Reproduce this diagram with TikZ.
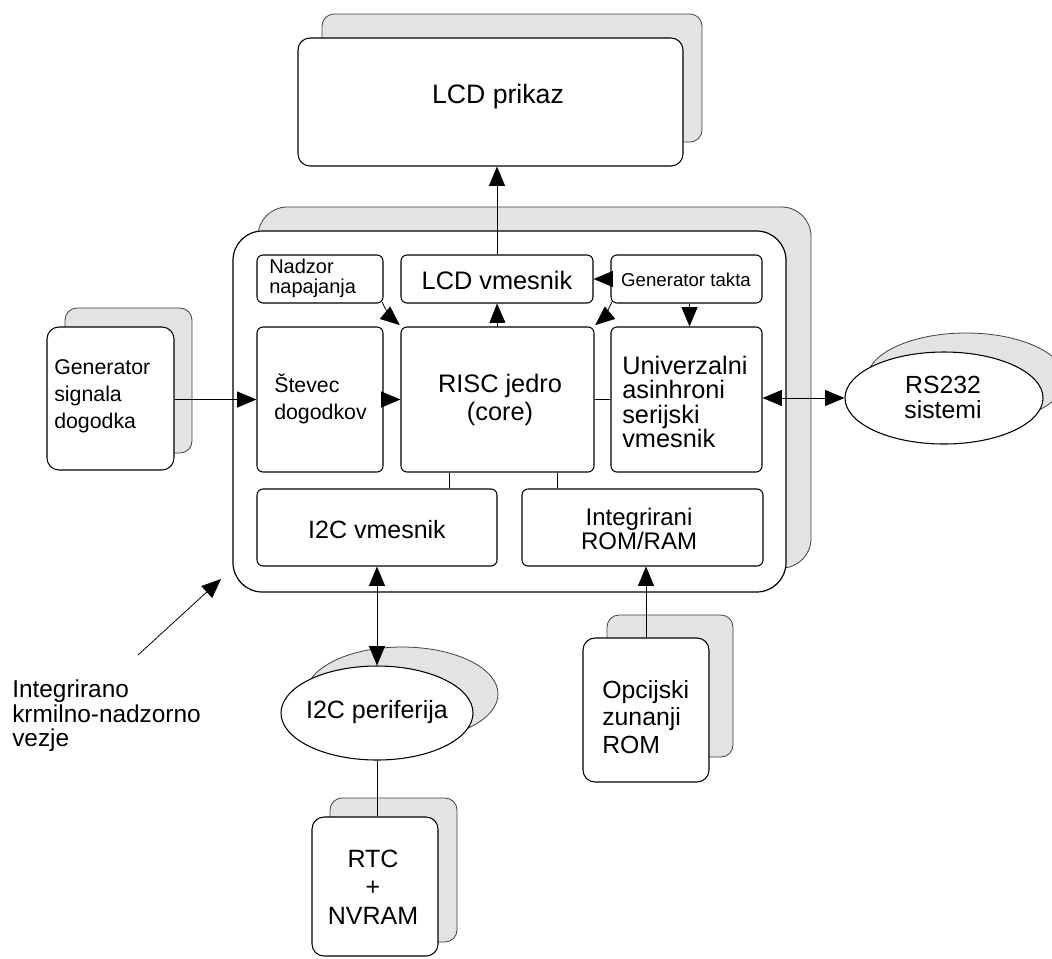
\documentclass[tikz,border=0pt]{standalone}
\usepackage{fontspec}
\setmainfont{Liberation Sans}
\usetikzlibrary{arrows.meta,fit,shapes.geometric}
\newcommand\fsz[2]{\fontsize{#1}{#2}\selectfont}
\tikzset{
  box/.style={draw, line width=0.8pt, fill=white, rounded corners=4.5pt, inner sep=0pt},
  bigbox/.style={box, rounded corners=9pt},
  shadebox/.style={draw=black!75, line width=0.6pt, fill=black!11, rounded corners=9pt, inner sep=0pt},
  ell/.style={ellipse, draw, line width=0.8pt, fill=white, inner sep=0pt},
  ellshade/.style={ellipse, draw=black!75, line width=0.6pt, fill=black!11, inner sep=0pt},
  txt/.style={inner sep=0pt},
  wire/.style={line width=0.6pt},
  arr/.style={wire, -{Triangle[length=14.5pt,width=12pt]}},
  dblarr/.style={wire, {Triangle[length=14.5pt,width=12pt]}-{Triangle[length=14.5pt,width=12pt]}},
}
\begin{document}
\begin{tikzpicture}[x=0.75pt,y=0.75pt]
\clip (0,0) rectangle (1052,-958);
\fill[white] (0,0) rectangle (1052,-958);

% LCD display
\node[shadebox, fit={(322,-14) (702,-142)}] (lcdpS) {};
\node[bigbox, fit={(298,-38) (683,-166)}] (lcdp) {};
\node[txt, font=\fsz{20}{24}] (lcdpT) at (498,-97) {LCD prikaz};

% control / supervision chip
\node[shadebox, rounded corners=22pt, fit={(258,-207) (811,-568)}] (icS) {};
\node[box, rounded corners=22pt, line width=0.9pt, fit={(233,-231) (786,-592)}] (ic) {};

\node[box, fit={(257,-255) (383,-303)}] (nadzor) {};
\node[box, fit={(401,-255) (593,-303)}] (lcdv) {};
\node[box, fit={(611,-255) (762,-303)}] (takt) {};
\node[box, fit={(257,-327) (383,-472)}] (stev) {};
\node[box, fit={(401,-327) (594,-472)}] (risc) {};
\node[box, fit={(611,-327) (762,-472)}] (uart) {};
\node[box, fit={(257,-489) (497,-566)}] (i2cv) {};
\node[box, fit={(522,-489) (763,-566)}] (intg) {};

\node[txt, anchor=west, align=left, font=\fsz{15}{15}] (nadzorT) at (269,-278) {Nadzor\\napajanja};
\node[txt, font=\fsz{19}{22}] (lcdvT) at (497,-280) {LCD vmesnik};
\node[txt, font=\fsz{14}{16}] (taktT) at (686,-280) {Generator takta};
\node[txt, anchor=west, align=left, font=\fsz{16}{20.25}] (stevT) at (274,-399) {Števec\\dogodkov};
\node[txt, align=center, font=\fsz{19}{21}] (riscT) at (500,-400) {RISC jedro\\(core)};
\node[txt, anchor=west, align=left, font=\fsz{19}{18.4}] (uartT) at (622,-402) {Univerzalni\\asinhroni\\serijski\\vmesnik};
\node[txt, font=\fsz{18.75}{22}] (i2cvT) at (377,-530) {I2C vmesnik};
\node[txt, align=center, font=\fsz{18}{16}] (intgT) at (639,-529) {Integrirani\\ROM/RAM};

% event signal generator
\node[shadebox, fit={(65,-308) (192,-453)}] (gsigS) {};
\node[bigbox, fit={(47,-327) (174,-470)}] (gsig) {};
\node[txt, anchor=west, align=left, font=\fsz{16}{20.25}] (gsigT) at (54,-396) {Generator\\signala\\dogodka};

% RS232 systems
\node[ellshade, minimum width=148.5pt, minimum height=69pt] (rsS) at (966,-379) {};
\node[ell, minimum width=148.5pt, minimum height=69pt] (rs) at (944,-398) {};
\node[txt, align=center, font=\fsz{18.6}{18.75}] (rsT) at (943,-397) {RS232\\sistemi};

% I2C peripherals
\node[ellshade, minimum width=144pt, minimum height=70.5pt] (perS) at (402,-694) {};
\node[ell, minimum width=144pt, minimum height=70.5pt] (per) at (377,-713) {};
\node[txt, font=\fsz{18.75}{22}] (perT) at (377,-712) {I2C periferija};

% RTC + NVRAM
\node[shadebox, fit={(330,-798) (457,-942)}] (rtcS) {};
\node[bigbox, fit={(312,-817) (438,-956)}] (rtc) {};
\node[txt, align=center, font=\fsz{18.75}{21.4}] (rtcT) at (373,-887) {RTC\\+\\NVRAM};

% optional external ROM
\node[shadebox, fit={(607,-615) (733,-757)}] (romS) {};
\node[bigbox, fit={(583,-638) (709,-782)}] (rom) {};
\node[txt, anchor=west, align=left, font=\fsz{18.6}{20.6}] (romT) at (602,-717) {Opcijski\\zunanji\\ROM};

% annotation
\node[txt, anchor=west, align=left, font=\fsz{18.3}{18.4}] (noteT) at (12,-716) {Integrirano\\krmilno-nadzorno\\vezje};
\coordinate (noteA) at (138,-655);
\coordinate (noteB) at (221,-579);

% connectors
\draw[arr] (lcdv.north) -- (lcdv.north |- lcdp.south);
\draw[arr] (risc.north) -- (lcdv.south);
\draw[arr] (takt.west) -- (lcdv.east);
\draw[arr] ([xshift=-54.75pt]takt.south east) -- ([xshift=-54.75pt]uart.north east);
\draw[arr] ([xshift=-1pt,yshift=1pt]nadzor.south east) to[out=-65,in=140] ([xshift=-0.5pt,yshift=1pt]risc.north west);
\draw[arr] ([xshift=1pt,yshift=1pt]takt.south west) to[out=-115,in=40] ([xshift=0.5pt,yshift=1pt]risc.north east);
\draw[arr] (gsig.east |- stev.west) -- (stev.west);
\draw[arr] (stev.east) -- (risc.west);
\draw[wire] (risc.east) -- (uart.west);
\draw[dblarr] (rs.west -| uart.east) -- (rs.west);
\draw[wire] ([xshift=36.75pt]risc.south west) -- ([xshift=36.75pt]risc.south west |- i2cv.north);
\draw[wire] ([xshift=117.75pt]risc.south west) -- ([xshift=117.75pt]risc.south west |- intg.north);
\draw[dblarr] (i2cv.south -| per.north) -- (per.north);
\draw[wire] (per.south) -- (per.south |- rtc.north);
\draw[arr] (rom.north) -- (rom.north |- intg.south);
\draw[arr] (noteA) -- (noteB);
\end{tikzpicture}
\end{document}
